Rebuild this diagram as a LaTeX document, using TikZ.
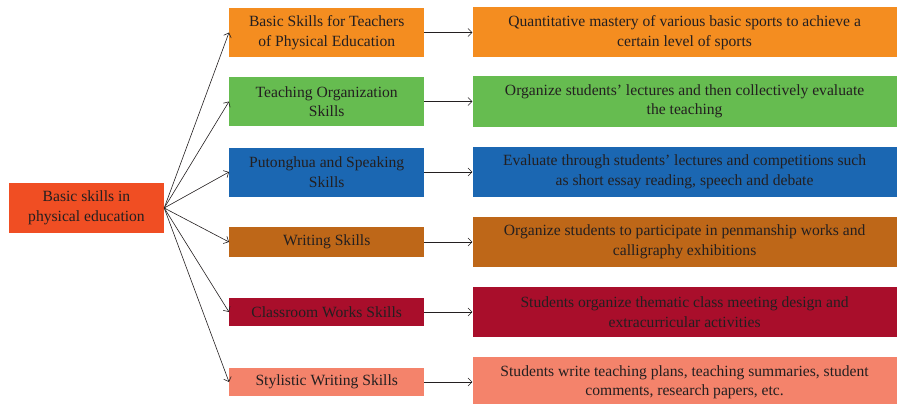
\documentclass[tikz,border=0pt]{standalone}
\usepackage{fontspec}
\setmainfont{Liberation Serif}
\usetikzlibrary{positioning, arrows.meta}
\definecolor{ink}{RGB}{35,31,32}
\definecolor{rootred}{RGB}{240,78,35}
\definecolor{sorange}{RGB}{244,141,32}
\definecolor{sgreen}{RGB}{102,188,80}
\definecolor{sblue}{RGB}{27,103,178}
\definecolor{sbrown}{RGB}{190,103,24}
\definecolor{scrimson}{RGB}{169,14,43}
\definecolor{ssalmon}{RGB}{244,131,107}
\tikzset{
  box/.style={
    rectangle, inner sep=2pt, align=center, text=ink,
    font=\fontsize{15.6}{19.5}\selectfont
  },
  skill/.style={box, minimum width=195pt, minimum height=49pt, anchor=west},
  detail/.style={box, minimum width=424pt, minimum height=50pt},
  link/.style={draw=ink, semithick, -{Straight Barb[length=4pt,width=8pt]}},
}

\begin{document}
\begin{tikzpicture}[x=1pt, y=-1pt, node distance=48pt]
  \useasboundingbox (0,0) rectangle (897,404);

  \node[box, fill=rootred, minimum width=155pt, minimum height=50pt] (root)
    at (86.5,208) {Basic skills in\\physical education};

  % skills column
  \node[skill, fill=sorange] (m1) at (229,32.5) {Basic Skills for Teachers\\of Physical Education};
  \node[skill, fill=sgreen] (m2) at (229,101.5) {Teaching Organization\\Skills};
  \node[skill, fill=sblue] (m3) at (229,172) {Putonghua and Speaking\\Skills};
  \node[skill, fill=sbrown, minimum height=30pt] (m4) at (229,242) {Writing Skills};
  \node[skill, fill=scrimson, minimum height=28pt] (m5) at (229,312) {Classroom Works Skills};
  \node[skill, fill=ssalmon, minimum height=28pt] (m6) at (229,382) {Stylistic Writing Skills};

  % evaluation column
  \node[detail, fill=sorange, right=of m1] (d1)
    {Quantitative mastery of various basic sports to achieve a\\certain level of sports};
  \node[detail, fill=sgreen, right=of m2] (d2)
    {Organize students’ lectures and then collectively evaluate\\the teaching};
  \node[detail, fill=sblue, right=of m3] (d3)
    {Evaluate through students’ lectures and competitions such\\as short essay reading, speech and debate};
  \node[detail, fill=sbrown, right=of m4] (d4)
    {Organize students to participate in penmanship works and\\calligraphy exhibitions};
  \node[detail, fill=scrimson, right=of m5] (d5)
    {Students organize thematic class meeting design and\\extracurricular activities};
  \node[detail, fill=ssalmon, right=of m6] (d6)
    {Students write teaching plans, teaching summaries, student\\comments, research papers, etc.};

  \foreach \i in {1,...,6} {
    \draw[link] (root.east) -- (m\i.west);
    \draw[link] (m\i) -- (d\i);
  }
\end{tikzpicture}
\end{document}
